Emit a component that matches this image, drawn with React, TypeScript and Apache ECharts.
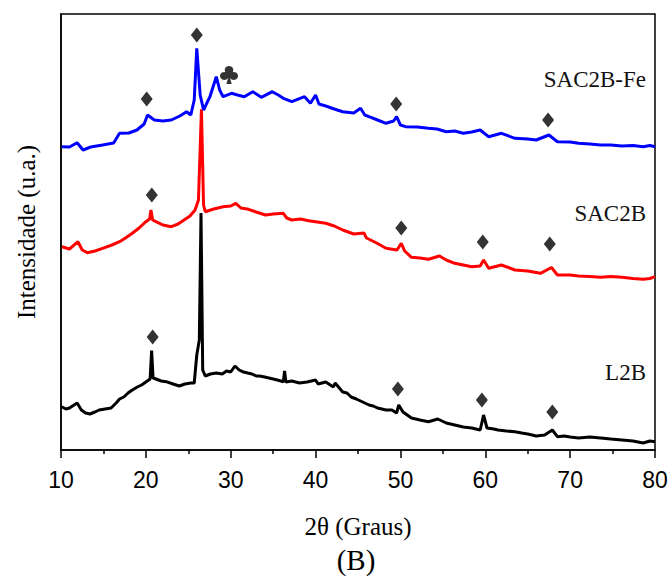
import React, { useEffect, useRef } from "react";
import * as echarts from "echarts";

// Intensity scale: arbitrary units (0 .. 436)
const l2bX = [10.0, 10.6, 11.0, 11.9, 12.4, 12.9, 13.4, 14.0, 14.5, 15.2, 15.9, 16.5, 16.9, 17.4, 17.9, 18.4, 19.0, 19.5, 20.0, 20.5, 20.68, 20.85, 21.2, 21.8, 22.4, 23.2, 23.95, 24.6, 25.3, 25.7, 26.0, 26.3, 26.5, 26.7, 27.0, 27.6, 28.3, 29.0, 29.5, 30.0, 30.5, 31.0, 31.4, 32.0, 32.5, 33.0, 33.4, 34.0, 34.5, 35.0, 35.5, 36.2, 36.35, 36.5, 37.2, 38.1, 39.0, 40.0, 40.3, 41.2, 42.1, 42.3, 42.5, 43.2, 43.7, 44.2, 44.8, 45.3, 45.8, 46.3, 46.8, 47.3, 48.3, 49.0, 49.55, 49.8, 50.3, 51.3, 52.3, 53.3, 54.4, 55.4, 56.4, 57.4, 58.4, 59.4, 59.8, 60.2, 61.0, 61.5, 62.5, 63.5, 64.3, 65.0, 66.0, 67.0, 67.9, 68.5, 69.3, 70.0, 71.0, 72.3, 73.6, 74.8, 76.1, 77.4, 78.6, 79.4, 80.0];
const l2bY = [43.3, 41, 42, 47, 40, 37, 36, 38, 40, 41, 42, 47, 51, 53, 57, 60, 63, 65, 68, 71, 99.3, 72, 71, 69, 68.3, 66, 64, 66, 67, 67, 95, 110, 237, 80, 74, 76, 77, 76, 79, 78, 84, 80, 78.3, 77, 76, 74, 74, 73, 72, 71, 70, 68.3, 79, 68, 69, 67, 68, 70, 66, 68, 63, 67, 65, 58, 57, 53, 51, 49, 47, 45, 44, 42, 40, 40, 37, 45, 38, 32, 30, 28.3, 31, 27, 25, 23, 22, 20, 35, 22, 21, 20, 19, 18.3, 17, 16, 14, 15, 20, 13.3, 14, 13, 12, 13, 12, 11, 10, 9, 7, 9, 8.3];

const sac2bX = [10.1, 11.0, 12.0, 12.5, 13.1, 14.0, 14.9, 16.0, 16.9, 17.6, 18.4, 19.2, 20.0, 20.45, 20.6, 20.8, 21.2, 22.0, 23.0, 23.8, 24.5, 25.2, 25.8, 26.2, 26.55, 26.8, 27.0, 28.0, 29.1, 30.0, 30.6, 31.2, 32.1, 33.0, 34.1, 35.0, 36.2, 36.6, 37.2, 38.2, 39.2, 40.2, 41.2, 42.2, 43.2, 44.5, 45.7, 46.0, 47.2, 48.3, 49.6, 50.1, 50.5, 51.3, 52.3, 53.3, 54.6, 55.4, 56.4, 57.4, 58.4, 59.4, 59.8, 60.4, 61.9, 63.5, 65.0, 66.5, 67.8, 68.5, 70.0, 71.0, 72.3, 73.6, 74.8, 76.1, 77.4, 78.6, 79.4, 80.0];
const sac2bY = [203.3, 201, 208.3, 200, 197.3, 199, 201.7, 205, 208.3, 212, 216.7, 222, 228.3, 231, 240, 230, 228.3, 225, 223.3, 226, 230, 234, 240, 250, 340.7, 245, 238.3, 241, 243.3, 244, 246.7, 242, 240.7, 238, 235, 236, 236.7, 232, 230, 231, 229.3, 228, 226.7, 224, 220, 216, 217, 212, 207, 201.7, 200, 206.7, 199, 192.7, 192, 190.7, 194, 190, 186.7, 185, 183.3, 184, 190, 181.7, 185, 180, 179, 176.7, 182.5, 175, 175, 174, 173.5, 172.7, 173.5, 172.7, 171.5, 170.7, 171.5, 173.3];

const sac2bFeX = [10.1, 11.0, 11.9, 12.6, 13.5, 14.9, 16.2, 16.9, 18.0, 18.95, 19.8, 20.2, 21.0, 22.0, 23.0, 24.0, 24.8, 25.3, 25.7, 26.0, 26.4, 26.8, 27.55, 28.3, 28.7, 29.1, 30.1, 30.8, 31.6, 32.6, 33.6, 34.9, 35.6, 36.2, 37.2, 38.7, 39.4, 40.0, 40.4, 41.2, 42.2, 43.2, 44.5, 45.3, 45.8, 46.3, 47.3, 48.3, 49.2, 49.55, 50.0, 50.6, 52.0, 53.3, 54.3, 55.4, 56.4, 57.4, 58.4, 59.4, 60.4, 61.9, 63.5, 65.0, 66.0, 67.5, 68.5, 70.0, 71.0, 72.3, 73.6, 74.8, 76.1, 77.4, 78.6, 79.4, 80.0];
const sac2bFeY = [303.3, 303, 307.3, 300, 303, 305, 307, 316.7, 317, 320, 326, 335, 330, 329, 330, 334, 338.3, 335, 350, 401.7, 355, 340, 353.3, 373.3, 360, 353.3, 356.7, 355, 353.3, 358.3, 352.7, 358.3, 355, 351.7, 348.3, 353.3, 346.7, 355, 346, 344, 341, 338.3, 337, 341.7, 335, 333.3, 330, 326.7, 329, 333.3, 325, 323.3, 323, 321.7, 321, 318.3, 319, 316.7, 318, 320, 313.3, 316.7, 311.7, 311, 310, 315, 308.3, 308, 306.7, 306, 305, 305, 304, 304.5, 303.3, 304.5, 303.3];

// peak markers (♦) and (♣)
const diamondX = [20.8, 49.7, 59.6, 67.9, 20.7, 50.1, 59.7, 67.6, 20.1, 26.0, 49.5, 67.4];
const diamondY = [113, 61, 50, 38, 255, 222, 208, 206, 351, 415, 346, 330];
const clubX = [29.8];
const clubY = [375];

const seriesNames = ["L2B", "SAC2B", "SAC2B-Fe"];
const seriesColors = ["#000000", "#ff0000", "#0000ff"];

const xTicksMin = 10;
const xTicksMax = 80;
const xTickInterval = 10;

const zip = (xs: number[], ys: number[]) => xs.map((x, i) => [x, ys[i]]);

const SERIF = "'Liberation Serif', 'Times New Roman', serif";
const SANS = "'Liberation Sans', Arial, sans-serif";

const CLUB_PATH =
  "path://M50,4A21,21 0 1,1 49.9,4Z M27,36A21,21 0 1,1 26.9,36Z M73,36A21,21 0 1,1 72.9,36Z M50,40A14,14 0 1,1 49.9,40Z M50,50L63,100L37,100Z";

export default function App() {
  const ref = useRef<HTMLDivElement>(null);
  useEffect(() => {
    if (!ref.current) return;
    const chart = echarts.init(ref.current, null, { renderer: "svg" });
    const lineData = [zip(l2bX, l2bY), zip(sac2bX, sac2bY), zip(sac2bFeX, sac2bFeY)];
    chart.setOption({
      animation: false,
      backgroundColor: "#ffffff",
      grid: {
        left: 61,
        right: 16,
        top: 14,
        bottom: 127,
        show: true,
        borderColor: "#000",
        borderWidth: 1.5,
        backgroundColor: "transparent",
      },
      xAxis: {
        type: "value",
        min: xTicksMin,
        max: xTicksMax,
        interval: xTickInterval,
        axisLine: { show: true, lineStyle: { color: "#000", width: 1.5 } },
        axisTick: { show: true, inside: false, length: 8, lineStyle: { color: "#000", width: 1.5 } },
        minorTick: { show: true, splitNumber: 2, length: 4, lineStyle: { color: "#000", width: 1.5 } },
        splitLine: { show: false },
        minorSplitLine: { show: false },
        axisLabel: { color: "#000", fontSize: 23, fontFamily: SANS, margin: 18 },
        name: "2θ (Graus)",
        nameLocation: "middle",
        nameGap: 64,
        nameTextStyle: { color: "#000", fontSize: 25, fontFamily: SERIF },
      },
      yAxis: {
        type: "value",
        min: 0,
        max: 436,
        axisLine: { show: true, lineStyle: { color: "#000", width: 1.5 } },
        axisTick: { show: false },
        axisLabel: { show: false },
        splitLine: { show: false },
        name: "Intensidade (u.a.)",
        nameLocation: "middle",
        nameGap: 22,
        nameTextStyle: { color: "#000", fontSize: 25, fontFamily: SERIF },
      },
      series: [
        ...lineData.map((d, i) => ({
          name: seriesNames[i],
          type: "line",
          data: d,
          showSymbol: false,
          symbol: "none",
          lineStyle: { color: seriesColors[i], width: 3 },
          z: 2 + i,
        })),
        {
          type: "scatter",
          data: zip(diamondX, diamondY),
          symbol: "diamond",
          symbolSize: [12, 15],
          itemStyle: { color: "#000" },
          z: 10,
        },
        {
          type: "scatter",
          data: zip(clubX, clubY),
          symbol: CLUB_PATH,
          symbolSize: [18, 18],
          itemStyle: { color: "#000" },
          z: 10,
        },
      ],
      graphic: [
        {
          type: "text",
          x: 646,
          y: 79,
          style: { text: "SAC2B-Fe", fill: "#111", font: `23px ${SERIF}`, align: "right", verticalAlign: "middle" },
        },
        {
          type: "text",
          x: 646,
          y: 213,
          style: { text: "SAC2B", fill: "#111", font: `23px ${SERIF}`, align: "right", verticalAlign: "middle" },
        },
        {
          type: "text",
          x: 646,
          y: 372,
          style: { text: "L2B", fill: "#111", font: `23px ${SERIF}`, align: "right", verticalAlign: "middle" },
        },
        {
          type: "text",
          x: 356,
          y: 560,
          style: { text: "(B)", fill: "#000", font: `29px ${SERIF}`, align: "center", verticalAlign: "middle" },
        },
      ],
    });
    return () => chart.dispose();
  }, []);
  return <div ref={ref} style={{ position: "fixed", left: 0, top: 0, width: 671, height: 577 }} />;
}
